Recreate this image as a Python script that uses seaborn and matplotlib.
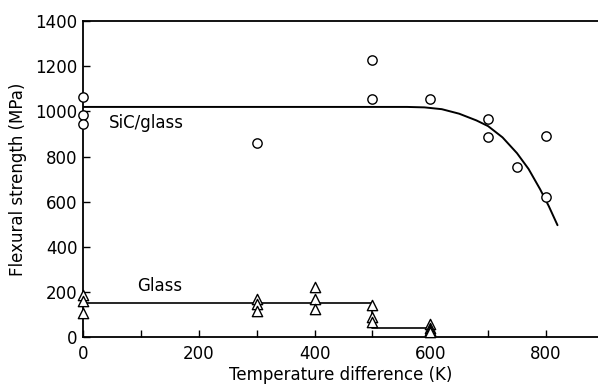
import numpy as np
import pandas as pd
import matplotlib
matplotlib.use("Agg")
import matplotlib.pyplot as plt
import seaborn as sns
from matplotlib.ticker import MultipleLocator

# SiC/glass composite measurements
sic_x = [0, 0, 0, 300, 500, 500, 600, 700, 700, 750, 800, 800]
sic_y = [1063, 983, 943, 859, 1227, 1054, 1054, 966, 886, 753, 890, 620]

# Glass measurements
glass_x = [0, 0, 0, 300, 300, 300, 400, 400, 400, 500, 500, 500, 600, 600, 600, 600]
glass_y = [186, 160, 106, 168, 146, 115, 221, 168, 124, 142, 89, 66, 58, 42, 30, 22]

# Fitted curve for SiC/glass
sic_fit_x = [0, 560, 590, 620, 650, 680, 700, 725, 750, 770, 790, 805, 820]
sic_fit_y = [1020, 1020, 1018, 1010, 990, 960, 935, 885, 815, 745, 655, 580, 496]

# Step line for glass
glass_fit_x = [0, 500, 500, 600]
glass_fit_y = [150, 150, 40, 40]

sns.set_theme(style="white")
plt.rcParams['font.family'] = ['DejaVu Sans']

fig = plt.figure(figsize=(5.98, 3.92), dpi=100)
ax = fig.add_axes([0.139, 0.140, 0.861, 0.806])

sic_df = pd.DataFrame({"x": sic_x, "y": sic_y})
glass_df = pd.DataFrame({"x": glass_x, "y": glass_y})
sfit = pd.DataFrame({"x": sic_fit_x, "y": sic_fit_y})
gfit = pd.DataFrame({"x": glass_fit_x, "y": glass_fit_y})

sns.lineplot(data=sfit, x="x", y="y", ax=ax, color="black", lw=1.4,
             estimator=None, sort=False)
sns.lineplot(data=gfit, x="x", y="y", ax=ax, color="black", lw=1.2,
             estimator=None, sort=False)
sns.scatterplot(data=sic_df, x="x", y="y", ax=ax, marker="o", s=45,
                facecolor="white", edgecolor="black", linewidth=1.0, zorder=5,
                clip_on=False)
sns.scatterplot(data=glass_df, x="x", y="y", ax=ax, marker="^", s=55,
                facecolor="white", edgecolor="black", linewidth=1.0, zorder=5,
                clip_on=False)

ax.set_xlim(0, 890)
ax.set_ylim(0, 1400)
ax.xaxis.set_major_locator(MultipleLocator(200))
ax.xaxis.set_minor_locator(MultipleLocator(100))
ax.yaxis.set_major_locator(MultipleLocator(200))
ax.tick_params(axis="both", which="both", direction="in", length=5, width=1,
               colors="black", labelsize=12, bottom=True, left=True, pad=4)
ax.tick_params(axis="x", which="major", pad=6)

for s in ["left", "bottom", "top"]:
    ax.spines[s].set_visible(True)
    ax.spines[s].set_color("black")
    ax.spines[s].set_linewidth(1.3)
ax.spines["right"].set_visible(False)

ax.set_xlabel("Temperature difference (K)", fontsize=12, color="black", labelpad=2)
ax.set_ylabel("Flexural strength (MPa)", fontsize=12, color="black", labelpad=6)

ax.text(45, 948, "SiC/glass", fontsize=12, va="center", ha="left", color="black")
ax.text(93, 226, "Glass", fontsize=12, va="center", ha="left", color="black")

fig.savefig("out.png", dpi=100)
